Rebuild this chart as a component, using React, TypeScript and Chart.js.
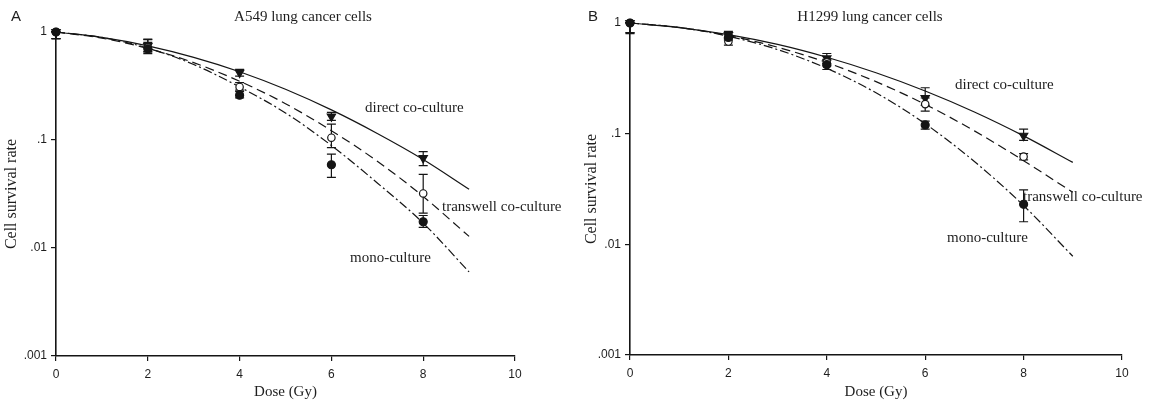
import React, { useEffect, useRef } from "react";
import { Chart, registerables } from "chart.js";

Chart.register(...registerables);

// ---------- shared axis data ----------
const doseTicks = [0, 2, 4, 6, 8, 10];
const survivalTicks = [0.001, 0.01, 0.1, 1];
const survivalTickLabels = [".001", ".01", ".1", "1"];

const pointDoses = [0, 2, 4, 6, 8];
const curveDoses = [0, 1, 2, 3, 4, 5, 6, 7, 8, 9];

// ---------- Panel A: A549 ----------
const a549DirectPts = [1, 0.74, 0.42, 0.165, 0.068];
const a549DirectLo = [0.87, 0.66, 0.39, 0.152, 0.058];
const a549DirectHi = [1, 0.86, 0.45, 0.18, 0.078];
const a549TranswellPts = [1, 0.72, 0.31, 0.105, 0.032];
const a549TranswellLo = [0.87, 0.65, 0.28, 0.085, 0.021];
const a549TranswellHi = [1, 0.85, 0.34, 0.14, 0.048];
const a549MonoPts = [1, 0.7, 0.26, 0.059, 0.0175];
const a549MonoLo = [0.87, 0.63, 0.245, 0.045, 0.0155];
const a549MonoHi = [1, 0.8, 0.29, 0.074, 0.02];
const a549DirectCurve = [1, 0.891, 0.745, 0.583, 0.429, 0.295, 0.19, 0.115, 0.066, 0.035];
const a549TranswellCurve = [1, 0.877, 0.705, 0.52, 0.35, 0.217, 0.122, 0.0636, 0.03, 0.0128];
const a549MonoCurve = [1, 0.89, 0.71, 0.5, 0.31, 0.178, 0.089, 0.04, 0.017, 0.006];

// ---------- Panel B: H1299 ----------
const h1299DirectPts = [1, 0.78, 0.48, 0.21, 0.096];
const h1299DirectLo = [0.8, 0.72, 0.43, 0.18, 0.087];
const h1299DirectHi = [1, 0.84, 0.53, 0.26, 0.11];
const h1299TranswellPts = [1, 0.68, 0.44, 0.185, 0.062];
const h1299TranswellLo = [0.82, 0.63, 0.41, 0.16, 0.058];
const h1299TranswellHi = [1, 0.73, 0.47, 0.21, 0.066];
const h1299MonoPts = [1, 0.74, 0.42, 0.12, 0.023];
const h1299MonoLo = [0.82, 0.7, 0.38, 0.11, 0.016];
const h1299MonoHi = [1, 0.78, 0.46, 0.13, 0.031];
const h1299DirectCurve = [1, 0.91, 0.785, 0.64, 0.49, 0.355, 0.243, 0.157, 0.0955, 0.055];
const h1299TranswellCurve = [1, 0.912, 0.77, 0.604, 0.439, 0.295, 0.184, 0.106, 0.057, 0.0295];
const h1299MonoCurve = [1, 0.912, 0.759, 0.575, 0.389, 0.234, 0.123, 0.056, 0.0224, 0.0078];

const INK = "#151515";
const TEXT = "#1e1e1e";
const SERIF = "'Liberation Serif', 'Times New Roman', serif";
const SANS = "'Liberation Sans', Arial, sans-serif";
const H = 403;

type TextItem = { text: string; x: number; y: number; align: CanvasTextAlign; font: string };

const errorBarPlugin = {
  id: "errorBars",
  beforeDatasetsDraw(chart: any) {
    const ctx = chart.ctx;
    const xs = chart.scales.x;
    const ys = chart.scales.y;
    ctx.save();
    ctx.strokeStyle = INK;
    ctx.lineWidth = 1.2;
    chart.data.datasets.forEach((ds: any) => {
      if (!ds.errLo) return;
      ds.data.forEach((p: any, i: number) => {
        const px = xs.getPixelForValue(p.x);
        const yLo = ys.getPixelForValue(ds.errLo[i]);
        const yHi = ys.getPixelForValue(ds.errHi[i]);
        const cap = 4.5;
        ctx.beginPath();
        ctx.moveTo(px, yHi);
        ctx.lineTo(px, yLo);
        ctx.moveTo(px - cap, yHi);
        ctx.lineTo(px + cap, yHi);
        ctx.moveTo(px - cap, yLo);
        ctx.lineTo(px + cap, yLo);
        ctx.stroke();
      });
    });
    ctx.restore();
  },
};

const textPlugin = {
  id: "panelText",
  afterDraw(chart: any, _args: any, opts: any) {
    const ctx = chart.ctx;
    ctx.save();
    ctx.fillStyle = TEXT;
    ctx.textBaseline = "middle";
    (opts.items || []).forEach((it: TextItem) => {
      ctx.font = it.font;
      ctx.textAlign = it.align;
      ctx.fillText(it.text, it.x, it.y);
    });
    ctx.restore();
  },
};

type PanelSpec = {
  width: number;
  areaLeft: number;
  areaRight: number;
  areaTop: number;
  areaBottom: number;
  directPts: number[]; directLo: number[]; directHi: number[];
  transPts: number[]; transLo: number[]; transHi: number[];
  monoPts: number[]; monoLo: number[]; monoHi: number[];
  directCurve: number[]; transCurve: number[]; monoCurve: number[];
  texts: TextItem[];
};

function buildConfig(p: PanelSpec): any {
  const curve = (vals: number[], dash: number[], label: string) => ({
    type: "line",
    label,
    data: curveDoses.map((x, i) => ({ x, y: vals[i] })),
    borderColor: INK,
    borderWidth: 1.2,
    borderDash: dash,
    pointRadius: 0,
    fill: false,
    cubicInterpolationMode: "monotone",
    clip: false,
  });
  const pts = (vals: number[], lo: number[], hi: number[], style: string, fillC: string, r: number, rot: number, label: string) => ({
    type: "line",
    label,
    showLine: false,
    data: pointDoses.map((x, i) => ({ x, y: vals[i] })),
    errLo: lo,
    errHi: hi,
    pointStyle: style,
    pointRadius: r,
    pointBackgroundColor: fillC,
    pointBorderColor: INK,
    pointBorderWidth: 1.2,
    pointRotation: rot,
    clip: false,
  });

  return {
    type: "line",
    data: {
      datasets: [
        pts(p.monoPts, p.monoLo, p.monoHi, "circle", INK, 4, 0, "mono-culture"),
        pts(p.transPts, p.transLo, p.transHi, "circle", "#fff", 3.7, 0, "transwell co-culture"),
        pts(p.directPts, p.directLo, p.directHi, "triangle", INK, 4.8, 180, "direct co-culture"),
        curve(p.directCurve, [], "direct fit"),
        curve(p.transCurve, [9, 5], "transwell fit"),
        curve(p.monoCurve, [9, 3, 2, 3], "mono fit"),
      ],
    },
    options: {
      responsive: false,
      animation: false,
      events: [],
      layout: {
        padding: { left: 0, top: p.areaTop, right: p.width - p.areaRight, bottom: 0 },
      },
      plugins: {
        legend: { display: false },
        tooltip: { enabled: false },
        panelText: { items: p.texts },
      },
      scales: {
        x: {
          type: "linear",
          min: 0,
          max: 10,
          afterBuildTicks: (s: any) => {
            s.ticks = doseTicks.map((v) => ({ value: v }));
          },
          afterFit: (s: any) => {
            s.height = H - p.areaBottom;
          },
          ticks: {
            autoSkip: false,
            maxRotation: 0,
            padding: 6,
            color: TEXT,
            font: { family: SANS, size: 12 },
            callback: (v: any) => String(v),
          },
          grid: { drawOnChartArea: false, drawTicks: true, tickLength: 5, color: INK, lineWidth: 1.2 },
          border: { display: true, color: INK, width: 1.6 },
          title: {
            display: true,
            text: "Dose (Gy)",
            color: TEXT,
            font: { family: SERIF, size: 15 },
            padding: { top: 0, bottom: 2 },
          },
        },
        y: {
          type: "logarithmic",
          min: 0.001,
          max: 1,
          afterBuildTicks: (s: any) => {
            s.ticks = survivalTicks.map((v) => ({ value: v }));
          },
          afterFit: (s: any) => {
            s.width = p.areaLeft;
          },
          ticks: {
            autoSkip: false,
            padding: 4,
            color: TEXT,
            font: { family: SANS, size: 12 },
            callback: (v: any) => {
              const idx = survivalTicks.indexOf(Number(v));
              return idx >= 0 ? survivalTickLabels[idx] : "";
            },
          },
          grid: { drawOnChartArea: false, drawTicks: true, tickLength: 5, color: INK, lineWidth: 1.2 },
          border: { display: true, color: INK, width: 1.6 },
          title: {
            display: true,
            text: "Cell survival rate",
            color: TEXT,
            font: { family: SERIF, size: 16 },
            padding: { top: 2, bottom: 0 },
          },
        },
      },
    },
    plugins: [errorBarPlugin, textPlugin],
  };
}

const serif15 = `15px ${SERIF}`;
const sans15 = `15px ${SANS}`;

const panelA: PanelSpec = {
  width: 580,
  areaLeft: 56,
  areaRight: 515,
  areaTop: 32,
  areaBottom: 356,
  directPts: a549DirectPts, directLo: a549DirectLo, directHi: a549DirectHi,
  transPts: a549TranswellPts, transLo: a549TranswellLo, transHi: a549TranswellHi,
  monoPts: a549MonoPts, monoLo: a549MonoLo, monoHi: a549MonoHi,
  directCurve: a549DirectCurve, transCurve: a549TranswellCurve, monoCurve: a549MonoCurve,
  texts: [
    { text: "A", x: 11, y: 17, align: "left", font: sans15 },
    { text: "A549 lung cancer cells", x: 303, y: 17, align: "center", font: serif15 },
    { text: "direct co-culture", x: 365, y: 108, align: "left", font: serif15 },
    { text: "transwell co-culture", x: 442, y: 207, align: "left", font: serif15 },
    { text: "mono-culture", x: 350, y: 258, align: "left", font: serif15 },
  ],
};

const panelB: PanelSpec = {
  width: 579,
  areaLeft: 50,
  areaRight: 542,
  areaTop: 23,
  areaBottom: 355,
  directPts: h1299DirectPts, directLo: h1299DirectLo, directHi: h1299DirectHi,
  transPts: h1299TranswellPts, transLo: h1299TranswellLo, transHi: h1299TranswellHi,
  monoPts: h1299MonoPts, monoLo: h1299MonoLo, monoHi: h1299MonoHi,
  directCurve: h1299DirectCurve, transCurve: h1299TranswellCurve, monoCurve: h1299MonoCurve,
  texts: [
    { text: "B", x: 8, y: 17, align: "left", font: sans15 },
    { text: "H1299 lung cancer cells", x: 290, y: 17, align: "center", font: serif15 },
    { text: "direct co-culture", x: 375, y: 85, align: "left", font: serif15 },
    { text: "transwell co-culture", x: 443, y: 197, align: "left", font: serif15 },
    { text: "mono-culture", x: 367, y: 238, align: "left", font: serif15 },
  ],
};

function Panel({ spec, left }: { spec: PanelSpec; left: number }) {
  const ref = useRef<HTMLCanvasElement>(null);
  useEffect(() => {
    if (!ref.current) return;
    const chart = new Chart(ref.current, buildConfig(spec));
    return () => chart.destroy();
  }, [spec]);
  return (
    <canvas
      ref={ref}
      width={spec.width}
      height={H}
      style={{ position: "absolute", left, top: 0, width: spec.width, height: H }}
    />
  );
}

export default function App() {
  return (
    <div style={{ position: "absolute", left: 0, top: 0, width: 1159, height: H, background: "#fff" }}>
      <Panel spec={panelA} left={0} />
      <Panel spec={panelB} left={580} />
    </div>
  );
}
